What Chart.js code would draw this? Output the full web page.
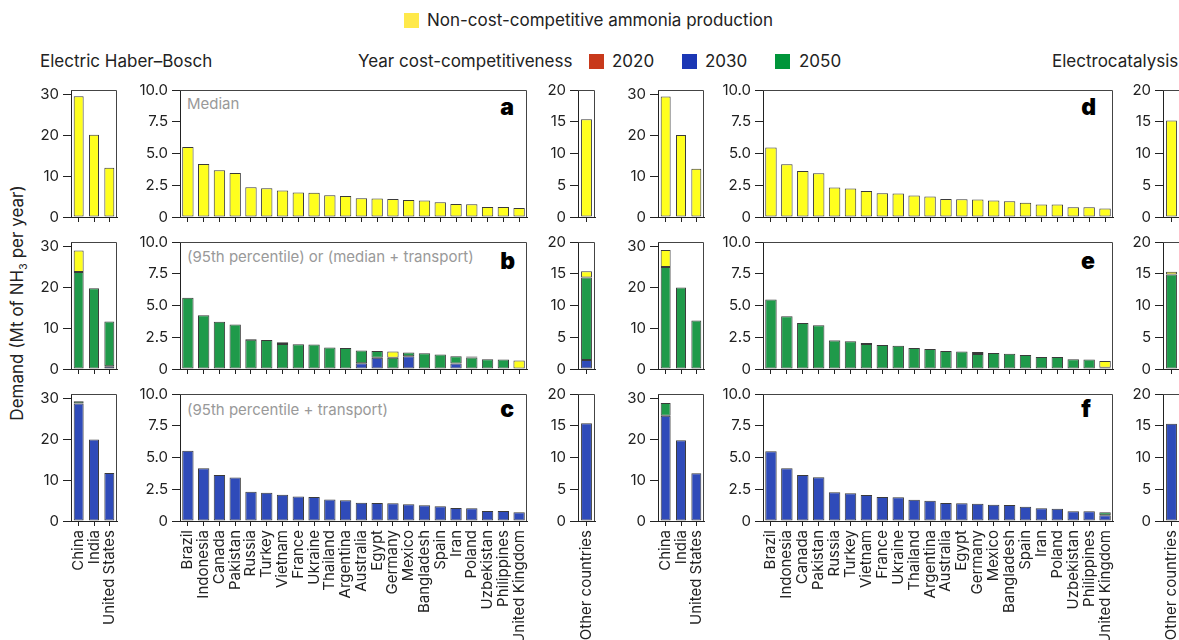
<!DOCTYPE html>
<html>
<head>
<meta charset="utf-8">
<script src="https://cdn.jsdelivr.net/npm/chart.js@4.4.1/dist/chart.umd.min.js"></script>
<style>
body { margin: 0; width: 1179px; height: 640px; overflow: hidden; background: #fff; position: relative; font-family: Inter, "Liberation Sans", sans-serif; color: #222; }
.t { position: absolute; white-space: nowrap; }
.sq { position: absolute; width: 15px; height: 15px; }
.head { font-size: 17px; line-height: 20px; }
.note { font-size: 15px; line-height: 16px; color: #999; }
.letter { font-size: 23px; line-height: 24px; font-weight: 900; color: #000; text-align: right; width: 30px; }
canvas { position: absolute; }
</style>
</head>
<body>

<!-- legend -->
<div class="sq" style="left:404px;top:13px;background:#ffe94a"></div>
<div class="t head" style="left:427px;top:10px">Non-cost-competitive ammonia production</div>
<div class="t head" style="left:40px;top:51px">Electric Haber–Bosch</div>
<div class="t head" style="left:358px;top:51px">Year cost-competitiveness</div>
<div class="sq" style="left:589px;top:54px;background:#c8391b"></div>
<div class="t head" style="left:612px;top:51px">2020</div>
<div class="sq" style="left:682px;top:54px;background:#1b37b5"></div>
<div class="t head" style="left:705px;top:51px">2030</div>
<div class="sq" style="left:775px;top:54px;background:#00953a"></div>
<div class="t head" style="left:799px;top:51px">2050</div>
<div class="t head" style="left:1052px;top:51px">Electrocatalysis</div>

<div class="t head" style="left:20px;top:303px;transform:translate(-50%,-50%) rotate(-90deg)">Demand (Mt of NH<sub style="font-size:11px">3</sub> per year)</div>

<!-- panel notes and letters -->
<div class="t note" style="left:187px;top:96px">Median</div>
<div class="t note" style="left:187px;top:249px">(95th percentile) or (median + transport)</div>
<div class="t note" style="left:187px;top:402px">(95th percentile + transport)</div>
<div class="t letter" style="left:484px;top:95px">a</div>
<div class="t letter" style="left:485px;top:249px">b</div>
<div class="t letter" style="left:484px;top:397px">c</div>
<div class="t letter" style="left:1066px;top:95px">d</div>
<div class="t letter" style="left:1065px;top:249px">e</div>
<div class="t letter" style="left:1061px;top:397px">f</div>

<script>
// Categories
const bigThree = ['China', 'India', 'United States'];
const midCountries = ['Brazil', 'Indonesia', 'Canada', 'Pakistan', 'Russia', 'Turkey', 'Vietnam', 'France',
    'Ukraine', 'Thailand', 'Argentina', 'Australia', 'Egypt', 'Germany', 'Mexico', 'Bangladesh', 'Spain',
    'Iran', 'Poland', 'Uzbekistan', 'Philippines', 'United Kingdom'];
const restLabel = ['Other countries'];

// Values: China, India, United States, the 22 countries above, Other countries (Mt NH3 per year)
// Electric Haber–Bosch
const hbMedianNon = [29.5, 20.1, 12.0, 5.52, 4.18, 3.69, 3.47, 2.34, 2.27, 2.08, 1.92, 1.9, 1.71, 1.66, 1.48, 1.45, 1.42, 1.34, 1.29, 1.16, 1.03, 1.0, 0.79, 0.79, 0.71, 15.4];
const hbHigh2030 = [0, 0, 0.7, 0, 0, 0, 0, 0, 0, 0, 0, 0, 0, 0, 0.45, 0.88, 0, 1.0, 0, 0, 0.43, 0, 0, 0, 0, 1.4];
const hbHigh2050 = [23.7, 19.7, 10.9, 5.61, 4.23, 3.72, 3.51, 2.3, 2.29, 1.97, 1.94, 1.92, 1.7, 1.65, 1.01, 0.53, 0.88, 0.3, 1.25, 1.14, 0.58, 0.9, 0.77, 0.75, 0, 13.0];
const hbHighNon = [5.2, 0, 0, 0, 0, 0, 0, 0.07, 0, 0.13, 0, 0, 0, 0, 0, 0, 0.5, 0, 0, 0, 0, 0.08, 0, 0, 0.67, 1.0];
const hbTransport2030 = [28.7, 19.9, 11.7, 5.54, 4.15, 3.63, 3.42, 2.3, 2.22, 2.07, 1.93, 1.88, 1.7, 1.64, 1.44, 1.41, 1.39, 1.31, 1.25, 1.17, 1.02, 1.0, 0.78, 0.78, 0.68, 15.4];
const hbTransport2050 = [0.5, 0, 0, 0, 0, 0, 0, 0, 0, 0, 0, 0, 0, 0, 0, 0, 0, 0, 0, 0, 0, 0, 0, 0, 0, 0];
// Electrocatalysis
const ecMedianNon = [29.4, 20.0, 11.75, 5.48, 4.16, 3.63, 3.45, 2.32, 2.24, 2.05, 1.87, 1.85, 1.69, 1.61, 1.42, 1.4, 1.37, 1.29, 1.24, 1.13, 0.98, 0.98, 0.77, 0.77, 0.66, 15.2];
const ecHigh2050 = [24.9, 19.9, 11.85, 5.47, 4.15, 3.63, 3.44, 2.24, 2.18, 1.97, 1.89, 1.84, 1.66, 1.58, 1.42, 1.37, 1.18, 1.26, 1.21, 1.1, 0.95, 0.95, 0.76, 0.74, 0.1, 14.9];
const ecHighNon = [4.15, 0, 0, 0, 0, 0, 0, 0.05, 0, 0.08, 0, 0, 0, 0, 0, 0, 0.16, 0, 0, 0, 0, 0, 0, 0, 0.53, 0.4];
const ecTransport2030 = [25.7, 19.7, 11.65, 5.5, 4.15, 3.62, 3.44, 2.26, 2.18, 2.05, 1.89, 1.87, 1.68, 1.6, 1.42, 1.39, 1.36, 1.28, 1.26, 1.13, 1.0, 0.97, 0.76, 0.76, 0.45, 15.3];
const ecTransport2050 = [3.1, 0, 0, 0, 0, 0, 0, 0, 0, 0, 0, 0, 0, 0, 0, 0, 0, 0, 0, 0, 0, 0, 0, 0, 0.23, 0];

// y ticks
const bigTicksMax = 31, bigStep = 10;
const midTicksMax = 10, midStep = 2.5;
const restTicksMax = 20, restStep = 5;

const YELLOW = '#ffff1e', GREEN = '#1f9a4a', BLUE = '#2f4bb9';

Chart.defaults.font.family = 'Inter, "Liberation Sans", sans-serif';
Chart.defaults.font.size = 15;
Chart.defaults.color = '#222';

// top and right sides of the box
const framePlugin = {
    id: 'frame',
    afterDraw(chart) {
        const a = chart.chartArea, ctx = chart.ctx;
        ctx.save();
        ctx.strokeStyle = '#444';
        ctx.lineWidth = 1;
        ctx.beginPath();
        ctx.moveTo(a.left, a.top + 0.5);
        ctx.lineTo(a.right - 0.5, a.top + 0.5);
        ctx.lineTo(a.right - 0.5, a.bottom);
        ctx.stroke();
        ctx.restore();
    }
};

function makePanel(box, labels, series, from, to, yMax, yStep, fmt, barPct, showLabels) {
    const padTop = 8, padRight = 4, yW = 48, xH = showLabels ? 130 : 14;
    const w = yW + box.w + padRight, h = padTop + box.h + xH;
    const c = document.createElement('canvas');
    c.width = w; c.height = h;
    c.style.left = (box.x - yW) + 'px';
    c.style.top = (box.y - padTop) + 'px';
    document.body.appendChild(c);

    new Chart(c, {
        type: 'bar',
        data: {
            labels: labels,
            datasets: series.map(s => ({
                label: s.name,
                data: s.values.slice(from, to).map(v => v || null),
                backgroundColor: s.color,
                borderColor: '#3a3a3a',
                borderWidth: 1,
                borderSkipped: false,
                barPercentage: barPct,
                categoryPercentage: 1
            }))
        },
        options: {
            responsive: false,
            animation: false,
            layout: { padding: { top: padTop, right: padRight, left: 0, bottom: 0 } },
            plugins: { legend: { display: false }, tooltip: { enabled: false } },
            scales: {
                x: {
                    stacked: true,
                    grid: { offset: false, drawOnChartArea: false, tickLength: 5, color: '#222' },
                    border: { color: '#222' },
                    ticks: { display: showLabels, minRotation: 90, maxRotation: 90, autoSkip: false, padding: 4, color: '#222' },
                    afterFit: s => { s.height = xH; s.paddingLeft = 0; s.paddingRight = 0; }
                },
                y: {
                    stacked: true,
                    min: 0,
                    max: yMax,
                    grid: { drawOnChartArea: false, tickLength: 8, color: '#222' },
                    border: { color: '#222' },
                    ticks: { stepSize: yStep, includeBounds: false, padding: 4, callback: fmt, color: '#222' },
                    afterFit: s => { s.width = yW; s.paddingTop = 0; s.paddingBottom = 0; }
                }
            }
        },
        plugins: [framePlugin]
    });
}

const intFmt = v => String(v);
const decFmt = v => v === 0 ? '0' : v.toFixed(1);

function makeRow(groupX, y, series, showLabels) {
    const h = 127;
    makePanel({ x: groupX[0], y: y, w: 46, h: h }, bigThree, series, 0, 3, bigTicksMax, bigStep, intFmt, 0.65, showLabels);
    makePanel({ x: groupX[1], y: y, w: groupX[2], h: h }, midCountries, series, 3, 25, midTicksMax, midStep, decFmt, 0.72, showLabels);
    makePanel({ x: groupX[3], y: y, w: 17, h: h }, restLabel, series, 25, 26, restTicksMax, restStep, intFmt, 0.64, showLabels);
}

const leftGroup = [71, 180, 347, 578];
const rightGroup = [658, 763, 350, 1163];

makeRow(leftGroup, 90, [{ name: 'Non-cost-competitive', values: hbMedianNon, color: YELLOW }], false);
makeRow(leftGroup, 242, [
    { name: '2030', values: hbHigh2030, color: BLUE },
    { name: '2050', values: hbHigh2050, color: GREEN },
    { name: 'Non-cost-competitive', values: hbHighNon, color: YELLOW }
], false);
makeRow(leftGroup, 394, [
    { name: '2030', values: hbTransport2030, color: BLUE },
    { name: '2050', values: hbTransport2050, color: GREEN }
], true);

makeRow(rightGroup, 90, [{ name: 'Non-cost-competitive', values: ecMedianNon, color: YELLOW }], false);
makeRow(rightGroup, 242, [
    { name: '2050', values: ecHigh2050, color: GREEN },
    { name: 'Non-cost-competitive', values: ecHighNon, color: YELLOW }
], false);
makeRow(rightGroup, 394, [
    { name: '2030', values: ecTransport2030, color: BLUE },
    { name: '2050', values: ecTransport2050, color: GREEN }
], true);
</script>
</body>
</html>
